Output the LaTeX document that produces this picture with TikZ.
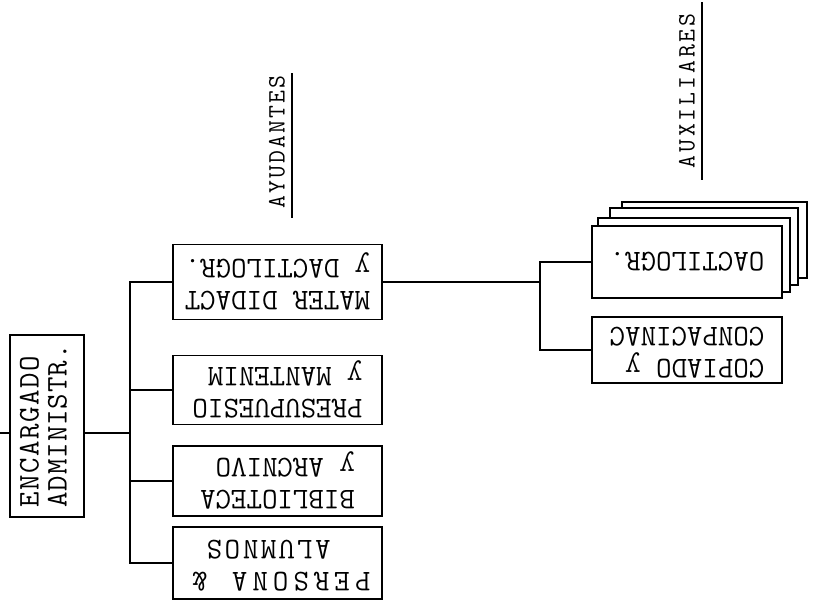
\documentclass[tikz,border=0pt]{standalone}
\usepackage{graphicx}
\makeatletter
\newcommand\spc[2]{\@tfor\spc@l:=#2\do{\makebox[#1][c]{\spc@l}}}
\makeatother
\tikzset{
  box/.style={draw, line width=1.4pt, fill=white, inner sep=0pt, font=\ttfamily\fontsize{30}{32}\selectfont},
  conn/.style={line width=1.8pt},
  hdr/.style={inner sep=0pt, font=\ttfamily\fontsize{25}{28}\selectfont, rotate=90},
  stackbox/.style={draw, line width=1.2pt, fill=white},
  uline/.style={line width=1.3pt}
}
\begin{document}
\begin{tikzpicture}[x=1pt,y=-1pt]
\useasboundingbox[fill=white] (0,0) rectangle (817,605);

\node[box, minimum width=74pt, minimum height=182pt, font=\ttfamily\fontsize{30}{28}\selectfont] (enc) at (47,426)
  {\rotatebox{90}{\begin{tabular}{@{}l@{}}\spc{17pt}{ENCARGADO}\\\spc{16.4pt}{ADMINISTR.}\end{tabular}}};

\node[box, minimum width=209pt, minimum height=75pt] (mater) at (277.5,282)
  {\rotatebox{180}{\begin{tabular}{@{}l@{}}MATER DIDACT\\y DACTILOGR.\end{tabular}}};
\node[box, minimum width=209pt, minimum height=69pt] (presu) at (277.5,390)
  {\rotatebox{180}{\begin{tabular}{@{}l@{}}PRESUPUESIO\\y MANTENIM\end{tabular}}};
\node[box, minimum width=209pt, minimum height=70pt] (biblio) at (277.5,481)
  {\rotatebox{180}{\begin{tabular}{@{}l@{}}BIBLIOTECA\\y ARCNIVO\end{tabular}}};
\node[box, minimum width=209pt, minimum height=72pt] (perso) at (277.5,563)
  {\rotatebox{180}{\begin{tabular}{@{}l@{\hspace{10pt}}}\spc{20.5pt}{PERSONA}\makebox[37.5pt][r]{\&}\\\hspace*{41pt}\spc{18.1pt}{ALUMNOS}\end{tabular}}};

\draw[stackbox] (622,202) rectangle (807,278);
\draw[stackbox] (610,208) rectangle (798,285);
\draw[stackbox] (598,218) rectangle (790,292);
\node[box, minimum width=190pt, minimum height=72pt] (dact) at (687,262)
  {\rotatebox{180}{OACTILOGR.}};
\node[box, minimum width=190pt, minimum height=66pt] (copi) at (687,350)
  {\rotatebox{180}{\begin{tabular}{@{}l@{}}COPIADO y\\CONPACINAC\end{tabular}}};

\coordinate (ein) at (0,433);
\coordinate (bx) at (130,433);
\coordinate (jx) at (540,300);
\draw[conn] (ein) -- (ein -| enc.west);
\draw[conn] (enc.east |- bx) -- (bx);
\draw[conn] (mater.west) -- (mater.west -| bx) -- (perso.west -| bx) -- (perso.west);
\draw[conn] (presu.west) -- (presu.west -| bx);
\draw[conn] (biblio.west) -- (biblio.west -| bx);
\draw[conn] (mater.east) -- (mater.east -| jx);
\draw[conn] (dact.west) -- (dact.west -| jx) -- (copi.west -| jx) -- (copi.west);

\node[hdr] (ayu) at (277,142) {\spc{15pt}{AYUDANTES}};
\node[hdr] (aux) at (687,91) {\spc{15.8pt}{AUXILIARES}};
\draw[uline] (292,73) -- (292,218);
\draw[uline] (702,2) -- (702,180);
\end{tikzpicture}
\end{document}
